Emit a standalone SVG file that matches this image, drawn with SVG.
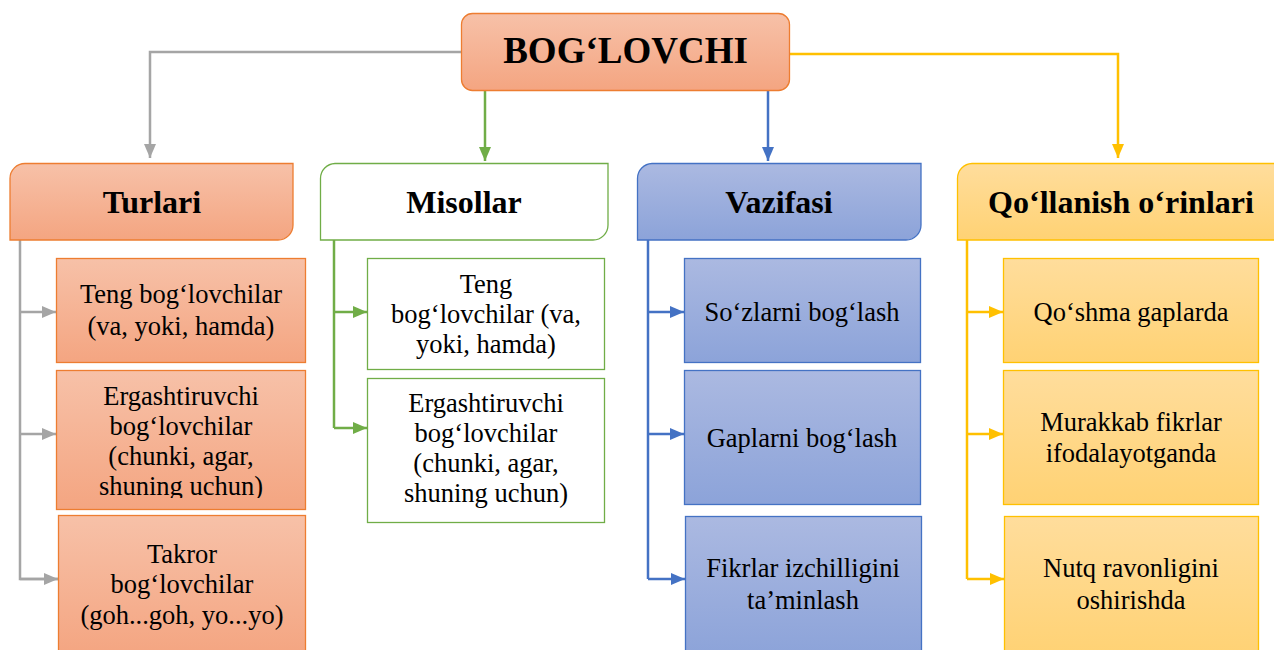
<svg xmlns="http://www.w3.org/2000/svg" width="1274" height="650" viewBox="0 0 1274 650">
<defs>
<linearGradient id="gO" x1="0" y1="0" x2="0" y2="1"><stop offset="0" stop-color="#f7c1a8"/><stop offset="1" stop-color="#f4a581"/></linearGradient>
<linearGradient id="gB" x1="0" y1="0" x2="0" y2="1"><stop offset="0" stop-color="#abb9e1"/><stop offset="1" stop-color="#8ca3d9"/></linearGradient>
<linearGradient id="gY" x1="0" y1="0" x2="0" y2="1"><stop offset="0" stop-color="#ffdd9c"/><stop offset="1" stop-color="#ffd274"/></linearGradient>
<marker id="aGr" viewBox="0 0 14 12" refX="14" refY="6" markerWidth="14" markerHeight="12" markerUnits="userSpaceOnUse" orient="auto"><path d="M0,0 L14,6 L0,12 Z" fill="#a5a5a5"/></marker>
<marker id="aG" viewBox="0 0 14 12" refX="14" refY="6" markerWidth="14" markerHeight="12" markerUnits="userSpaceOnUse" orient="auto"><path d="M0,0 L14,6 L0,12 Z" fill="#70ad47"/></marker>
<marker id="aB" viewBox="0 0 14 12" refX="14" refY="6" markerWidth="14" markerHeight="12" markerUnits="userSpaceOnUse" orient="auto"><path d="M0,0 L14,6 L0,12 Z" fill="#4472c4"/></marker>
<marker id="aY" viewBox="0 0 14 12" refX="14" refY="6" markerWidth="14" markerHeight="12" markerUnits="userSpaceOnUse" orient="auto"><path d="M0,0 L14,6 L0,12 Z" fill="#ffc000"/></marker>
<clipPath id="clipE"><rect x="56" y="370" width="250" height="128"/></clipPath>
</defs>
<style>
text{font-family:'Liberation Serif','Times New Roman',serif;fill:#000;text-anchor:middle}
.t{font-size:26.5px}
.h{font-size:32px;font-weight:bold}
.r{font-size:37px;font-weight:bold}
.o{fill:url(#gO);stroke:#ed7d31;stroke-width:1.3}
.b{fill:url(#gB);stroke:#4472c4;stroke-width:1.3}
.y{fill:url(#gY);stroke:#ffc000;stroke-width:1.3}
.w{fill:#fff;stroke:#70ad47;stroke-width:1.3}
.c{fill:none;stroke-width:2.5}
.cgr{stroke:#a5a5a5}
.cg{stroke:#70ad47}
.cb{stroke:#4472c4}
.cy{stroke:#ffc000}
</style>
<g id="connectors">
<path class="c cgr" d="M461,52 H150 V158" marker-end="url(#aGr)"/>
<path class="c cg" d="M485,91 V161" marker-end="url(#aG)"/>
<path class="c cb" d="M768,91 V161" marker-end="url(#aB)"/>
<path class="c cy" d="M790,54 H1118 V158" marker-end="url(#aY)"/>
<path class="c cgr" d="M20,240 V579 H58"/>
<path class="c cgr" d="M20,312 H56" marker-end="url(#aGr)"/>
<path class="c cgr" d="M20,434 H56" marker-end="url(#aGr)"/>
<path class="c cgr" d="M20,579 H58" marker-end="url(#aGr)"/>
<path class="c cg" d="M334,240 V428"/>
<path class="c cg" d="M334,312 H367" marker-end="url(#aG)"/>
<path class="c cg" d="M334,428 H367" marker-end="url(#aG)"/>
<path class="c cb" d="M648,240 V579"/>
<path class="c cb" d="M648,312 H684" marker-end="url(#aB)"/>
<path class="c cb" d="M648,434 H684" marker-end="url(#aB)"/>
<path class="c cb" d="M648,579 H685" marker-end="url(#aB)"/>
<path class="c cy" d="M967,240 V579"/>
<path class="c cy" d="M967,312 H1003" marker-end="url(#aY)"/>
<path class="c cy" d="M967,434 H1003" marker-end="url(#aY)"/>
<path class="c cy" d="M967,579 H1004" marker-end="url(#aY)"/>
</g>
<g id="root">
<rect class="o" x="461.5" y="13.5" width="328" height="77" rx="11"/>
<text class="r" x="625.5" y="63">BOG‘LOVCHI</text>
</g>
<g id="turlari">
<path class="o" d="M25,163.5 H293 V225 A15,15 0 0 1 278,240 H10 V178.5 A15,15 0 0 1 25,163.5 Z"/>
<text class="h" x="152" y="213">Turlari</text>
</g>
<g id="turlari-1">
<rect class="o" x="56.5" y="258.5" width="249" height="104"/>
<text class="t" x="181" y="303">Teng bog‘lovchilar</text>
<text class="t" x="181" y="335">(va, yoki, hamda)</text>
</g>
<g id="turlari-2">
<rect class="o" x="56.5" y="370.5" width="249" height="139"/>
<g clip-path="url(#clipE)">
<text class="t" x="181" y="405">Ergashtiruvchi</text>
<text class="t" x="181" y="435">bog‘lovchilar</text>
<text class="t" x="181" y="465">(chunki, agar,</text>
<text class="t" x="181" y="495">shuning uchun)</text>
</g>
</g>
<g id="turlari-3">
<rect class="o" x="58.5" y="515.5" width="247" height="140"/>
<text class="t" x="182" y="563">Takror</text>
<text class="t" x="182" y="593">bog‘lovchilar</text>
<text class="t" x="182" y="624">(goh...goh, yo...yo)</text>
</g>
<g id="misollar">
<path class="w" d="M335,163.5 H608 V225 A15,15 0 0 1 593,240 H320.5 V178.5 A15,15 0 0 1 335,163.5 Z"/>
<text class="h" x="464" y="213">Misollar</text>
</g>
<g id="misollar-1">
<rect class="w" x="367.5" y="258.5" width="237" height="111"/>
<text class="t" x="486" y="293">Teng</text>
<text class="t" x="486" y="323">bog‘lovchilar (va,</text>
<text class="t" x="486" y="353">yoki, hamda)</text>
</g>
<g id="misollar-2">
<rect class="w" x="367.5" y="378.5" width="237" height="144"/>
<text class="t" x="486" y="412">Ergashtiruvchi</text>
<text class="t" x="486" y="442">bog‘lovchilar</text>
<text class="t" x="486" y="472">(chunki, agar,</text>
<text class="t" x="486" y="502">shuning uchun)</text>
</g>
<g id="vazifasi">
<path class="b" d="M652,163.5 H921 V225 A15,15 0 0 1 906,240 H637.5 V178.5 A15,15 0 0 1 652,163.5 Z"/>
<text class="h" x="779" y="213">Vazifasi</text>
</g>
<g id="vazifasi-1">
<rect class="b" x="684.5" y="258.5" width="236" height="104"/>
<text class="t" x="802" y="321">So‘zlarni bog‘lash</text>
</g>
<g id="vazifasi-2">
<rect class="b" x="684.5" y="370.5" width="236" height="134"/>
<text class="t" x="802" y="447">Gaplarni bog‘lash</text>
</g>
<g id="vazifasi-3">
<rect class="b" x="685.5" y="516.5" width="236" height="140"/>
<text class="t" x="803" y="577">Fikrlar izchilligini</text>
<text class="t" x="803" y="609">ta’minlash</text>
</g>
<g id="qollanish">
<path class="y" d="M972,163.5 H1290 V240 H957.5 V178.5 A15,15 0 0 1 972,163.5 Z"/>
<text class="h" x="1121" y="213">Qo‘llanish o‘rinlari</text>
</g>
<g id="qollanish-1">
<rect class="y" x="1003.5" y="258.5" width="255" height="104"/>
<text class="t" x="1131" y="321">Qo‘shma gaplarda</text>
</g>
<g id="qollanish-2">
<rect class="y" x="1003.5" y="370.5" width="255" height="134"/>
<text class="t" x="1131" y="431">Murakkab fikrlar</text>
<text class="t" x="1131" y="462">ifodalayotganda</text>
</g>
<g id="qollanish-3">
<rect class="y" x="1004.5" y="516.5" width="254" height="140"/>
<text class="t" x="1131" y="577">Nutq ravonligini</text>
<text class="t" x="1131" y="609">oshirishda</text>
</g>
</svg>
